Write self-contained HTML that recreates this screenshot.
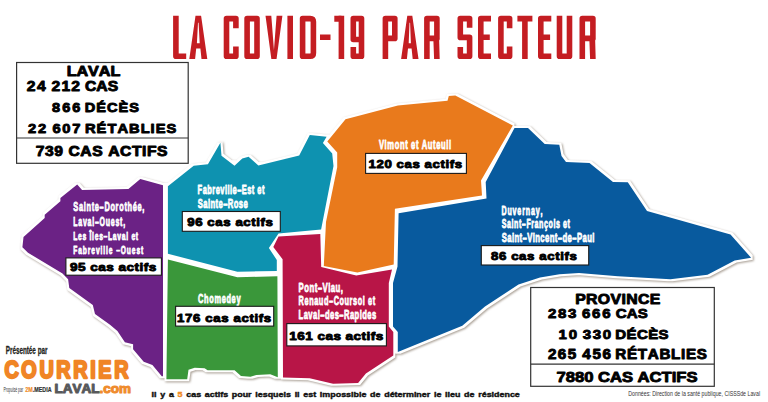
<!DOCTYPE html>
<html><head><meta charset="utf-8"><style>
html,body{margin:0;padding:0;background:#fff;overflow:hidden}
svg{display:block;font-family:"Liberation Sans",sans-serif;font-kerning:none}
</style></head><body>
<svg width="768" height="402" viewBox="0 0 768 402">
<defs><filter id="sh" x="-5%" y="-5%" width="110%" height="110%" color-interpolation-filters="sRGB"><feMorphology in="SourceAlpha" operator="dilate" radius="3.5" result="d"/><feMorphology in="d" operator="erode" radius="2" result="e"/><feGaussianBlur in="e" stdDeviation="1.2" result="b"/><feOffset in="b" dx="1.3" dy="1.3" result="o"/><feFlood flood-color="#6a5a48" flood-opacity="0.6"/><feComposite in2="o" operator="in" result="s"/><feFlood flood-color="#fff"/><feComposite in2="e" operator="in" result="w"/><feMerge><feMergeNode in="s"/><feMergeNode in="w"/><feMergeNode in="SourceGraphic"/></feMerge></filter></defs>
<rect width="768" height="402" fill="#fff"/>
<path d="M175.9 15.8V56.2H186.2M235.9 28.3V18.6H226.5V56.2H235.9V46.5M247.1 18.6H257V56.2H247.1ZM290.2 15.8V59M302.6 18.6H310.2Q313.4 18.6 313.4 21.8V53Q313.4 56.2 310.2 56.2H302.6ZM341.4 15.8V59M361.5 39.5H353.3V18.6H361.5V56.2H353.3V47M385.4 59V18.6H394.8V38.4H385.4M426.9 59V18.6H436.9V38.4H426.9M469.6 27.8V18.6H460.3V37.4H469.6V56.2H460.3V47M491 18.6H480.8V56.2H491M480.8 37.2H489.8M509.6 28.3V18.6H500.9V56.2H509.6V46.5M517.4 18.6H532.4M524.9 18.6V59M551.3 18.6H540.8V56.2H551.3M540.8 37.2H550.1M559.5 15.8V56.2H569.5V15.8M582.3 59V18.6H592.9V38.4H582.3" fill="none" stroke="#c41d22" stroke-width="5.6" stroke-linejoin="round"/><path d="M189.3 59L195.5 15.8H201.1L207.3 59H201.5L200.4 48.6H196.2L195.1 59ZM196.9 43.2L198 22.8H198.6L199.7 43.2ZM265.5 15.8H271.3L273.95 50L276.6 15.8H282.4L276.55 59H271.35ZM320 34.6H330.5V40H320ZM334.3 15.8H341.4V21.8H334.3ZM401.1 59L407.3 15.8H412.3L418.5 59H412.7L411.6 48.6H408L406.9 59ZM408.7 43.2L409.5 22.8H410.1L410.9 43.2ZM433.3 38H439.1L439.7 59H434.1ZM589.3 38H595.1L595.7 59H590.1Z" fill="#c41d22" fill-rule="evenodd"/>
<g filter="url(#sh)">
<polygon points="77.2,184.5 82.1,189.9 128.4,188.9 140.3,178.9 163.0,185.2 163.0,376.0 162.0,376.5 152.4,364.9 143.7,361.7 133.1,349.3 133.1,344.3 124.9,342.2 117.4,331.0 110.0,324.8 95.0,313.9 92.8,304.9 69.3,288.1 68.1,279.2 62.5,273.6 28.0,252.8 22.4,247.2 23.5,237.1 44.7,218.1 44.7,214.7 60.4,201.3 60.4,198.0" fill="#6b2285"/>
<polygon points="167.9,186.3 193.7,165.8 207.9,164.2 220.4,142.8 221.5,155.8 234.5,165.7 242.3,158.4 248.6,156.7 258.4,165.4 299.2,155.5 309.8,134.9 326.6,136.8 322.9,143.0 332.2,153.6 333.5,166.1 321.1,229.4 278.5,233.6 268.9,247.9 276.8,260.0 276.8,271.0 237.4,271.7 167.9,253.8" fill="#0e92b0"/>
<polygon points="167.9,259.4 237.4,277.3 277.4,276.2 277.8,377.3 270.3,374.3 256.3,374.9 250.4,376.7 241.0,376.1 234.6,370.2 207.6,370.2 204.6,368.2 194.7,367.8 188.5,369.8 187.2,379.2 166.4,379.2" fill="#3a973a"/>
<polygon points="345.5,119.3 397.9,105.4 447.5,100.7 448.8,96.0 455.3,95.4 512.8,125.5 481.0,180.5 482.0,195.6 394.9,208.7 393.7,264.6 357.4,272.5 323.8,266.1 326.0,222.0 337.2,167.3 337.2,152.4 327.3,141.5" fill="#e97a1c"/>
<polygon points="278.5,236.6 320.3,233.9 321.2,267.0 356.2,275.5 392.0,269.4 388.8,283.0 388.8,326.5 393.3,332.0 393.3,355.6 365.9,373.6 358.1,383.0 333.1,383.7 309.7,378.3 283.0,377.5 282.6,259.2 273.3,247.0" fill="#b81547"/>
<polygon points="514.5,127.9 528.0,127.9 544.7,144.0 559.3,144.7 561.5,155.9 566.0,161.9 589.5,163.0 613.0,182.0 627.8,182.3 647.0,211.1 730.5,234.4 751.1,257.7 734.7,260.4 707.5,274.7 670.4,279.3 618.0,276.2 579.0,273.0 559.5,274.3 540.0,277.6 518.5,284.4 485.0,306.6 462.3,325.7 397.8,352.0 397.8,332.0 393.0,326.5 393.0,283.0 397.5,266.5 398.6,213.3 486.5,198.5 485.7,182.0" fill="#085a9e"/>
</g>
<text transform="scale(0.58,1)" x="126.36 136.05 144.32 149.04 158.01 163.43 171.70 179.98 190.38 199.35 205.49 214.46 219.88 228.86 237.13 245.41" y="211.50" font-size="12.79" font-weight="bold" fill="#fff" stroke="#fff" stroke-width="0.8" stroke-linejoin="round">Sainte–Dorothée,</text>
<text transform="scale(0.58,1)" x="126.26 134.94 142.97 150.99 159.01 163.68 171.70 182.40 191.08 199.10 207.12 212.46" y="225.90" font-size="12.06" font-weight="bold" fill="#fff" stroke="#fff" stroke-width="0.8" stroke-linejoin="round">Laval–Ouest,</text>
<text transform="scale(0.58,1)" x="126.29 134.60 142.28 149.96 154.40 158.84 163.28 170.95 178.63 186.30 194.62 202.29 209.97 217.64 222.08 226.52 234.20" y="240.20" font-size="11.63" font-weight="bold" fill="#fff" stroke="#fff" stroke-width="0.8" stroke-linejoin="round">Les Îles–Laval et</text>
<text transform="scale(0.58,1)" x="126.30 134.88 142.83 151.40 157.44 165.38 173.33 178.09 182.84 187.59 195.54 200.29 208.24 218.74 227.31 235.26 243.21" y="253.70" font-size="11.48" font-weight="bold" fill="#fff" stroke="#fff" stroke-width="0.8" stroke-linejoin="round">Fabreville –Ouest</text>
<rect x="65.9" y="257.9" width="95.5" height="17.3" fill="#fff" stroke="#1a1a1a" stroke-width="1.1"/>
<text transform="scale(1.18,1)" x="59.39 66.17 72.96 76.54 83.33 90.11 96.89 100.48 107.26 114.05 118.27 121.86 126.08" y="270.75" font-size="11.48" font-weight="bold" fill="#000" stroke="#000" stroke-width="0.9" stroke-linejoin="round">95 cas actifs</text>
<text transform="scale(0.58,1)" x="340.69 349.37 357.35 366.03 371.85 379.82 387.80 392.18 396.55 400.93 408.91 416.88 426.29 434.27 439.36 443.74 451.71" y="194.30" font-size="12.94" font-weight="bold" fill="#fff" stroke="#fff" stroke-width="0.8" stroke-linejoin="round">Fabreville–Est et</text>
<text transform="scale(0.58,1)" x="341.17 350.64 358.64 362.96 371.68 376.73 384.73 392.73 402.92 411.65 419.65" y="208.30" font-size="13.23" font-weight="bold" fill="#fff" stroke="#fff" stroke-width="0.8" stroke-linejoin="round">Sainte–Rose</text>
<rect x="182.3" y="211.5" width="98.0" height="19.8" fill="#fff" stroke="#1a1a1a" stroke-width="1.1"/>
<text transform="scale(1.18,1)" x="158.64 165.37 172.09 175.71 182.44 189.16 195.89 199.51 206.24 212.96 217.20 220.81 225.04" y="225.55" font-size="11.19" font-weight="bold" fill="#000" stroke="#000" stroke-width="0.9" stroke-linejoin="round">96 cas actifs</text>
<text transform="scale(0.58,1)" x="653.36 663.14 667.83 680.52 689.57 698.61 704.03 708.72 717.05 722.46 727.15 737.66 746.71 752.12 760.45 769.50 774.19" y="148.90" font-size="13.08" font-weight="bold" fill="#fff" stroke="#fff" stroke-width="0.8" stroke-linejoin="round">Vimont et Auteuil</text>
<rect x="365.6" y="153.4" width="100.8" height="20.0" fill="#fff" stroke="#1a1a1a" stroke-width="1.1"/>
<text transform="scale(1.18,1)" x="312.39 319.10 325.81 332.52 336.12 342.83 349.54 356.25 359.85 366.56 373.27 377.48 381.08 385.29" y="168.05" font-size="11.19" font-weight="bold" fill="#000" stroke="#000" stroke-width="0.9" stroke-linejoin="round">120 cas actifs</text>
<text transform="scale(0.58,1)" x="341.37 351.75 360.70 369.65 382.16 390.41 399.36 407.61" y="303.10" font-size="12.79" font-weight="bold" fill="#fff" stroke="#fff" stroke-width="0.8" stroke-linejoin="round">Chomedey</text>
<rect x="175.6" y="306.3" width="98.1" height="19.8" fill="#fff" stroke="#1a1a1a" stroke-width="1.1"/>
<text transform="scale(1.18,1)" x="150.10 156.85 163.60 170.35 173.99 180.74 187.49 194.24 197.87 204.62 211.37 215.63 219.26 223.51" y="321.95" font-size="11.19" font-weight="bold" fill="#000" stroke="#000" stroke-width="0.9" stroke-linejoin="round">176 cas actifs</text>
<text transform="scale(0.58,1)" x="514.80 524.53 533.51 542.50 547.77 556.02 565.76 570.29 578.54 587.52" y="291.60" font-size="13.37" font-weight="bold" fill="#fff" stroke="#fff" stroke-width="0.8" stroke-linejoin="round">Pont–Viau,</text>
<text transform="scale(0.58,1)" x="514.84 524.97 533.00 541.72 549.75 558.47 567.19 575.22 585.34 594.06 602.78 608.70 616.73 625.45 629.96 634.47 642.50" y="305.40" font-size="12.65" font-weight="bold" fill="#fff" stroke="#fff" stroke-width="0.8" stroke-linejoin="round">Renaud–Coursol et</text>
<text transform="scale(0.58,1)" x="514.81 523.58 531.63 539.68 547.73 552.14 560.19 568.95 577.00 585.05 593.10 603.33 611.38 620.14 624.55 633.31 641.36" y="319.20" font-size="13.08" font-weight="bold" fill="#fff" stroke="#fff" stroke-width="0.8" stroke-linejoin="round">Laval–des–Rapides</text>
<rect x="286.8" y="323.6" width="99.6" height="22.3" fill="#fff" stroke="#1a1a1a" stroke-width="1.1"/>
<text transform="scale(1.18,1)" x="245.08 251.86 258.63 265.41 268.99 275.76 282.54 289.31 292.89 299.67 306.44 310.66 314.24 318.45" y="339.85" font-size="11.48" font-weight="bold" fill="#000" stroke="#000" stroke-width="0.9" stroke-linejoin="round">161 cas actifs</text>
<text transform="scale(0.58,1)" x="864.53 874.81 883.74 891.99 900.25 906.47 915.39 923.65 931.91" y="214.90" font-size="12.21" font-weight="bold" fill="#fff" stroke="#fff" stroke-width="0.8" stroke-linejoin="round">Duvernay,</text>
<text transform="scale(0.58,1)" x="864.99 874.12 881.90 886.28 894.73 899.78 907.56 916.00 921.74 929.52 937.96 945.74 954.18 958.56 966.34 970.72 978.50" y="228.30" font-size="12.21" font-weight="bold" fill="#fff" stroke="#fff" stroke-width="0.8" stroke-linejoin="round">Saint–François et</text>
<text transform="scale(0.58,1)" x="864.96 874.52 882.60 886.95 895.76 900.85 908.93 918.49 922.85 931.65 939.73 947.81 956.62 961.71 969.79 978.60 986.67 994.75 1004.31 1012.39 1021.20" y="242.20" font-size="13.37" font-weight="bold" fill="#fff" stroke="#fff" stroke-width="0.8" stroke-linejoin="round">Saint–Vincent–de–Paul</text>
<rect x="481.3" y="245.6" width="107.4" height="19.4" fill="#fff" stroke="#1a1a1a" stroke-width="1.1"/>
<text transform="scale(1.18,1)" x="416.13 422.86 429.59 433.21 439.94 446.68 453.41 457.03 463.76 470.49 474.73 478.35 482.58" y="260.05" font-size="11.19" font-weight="bold" fill="#000" stroke="#000" stroke-width="0.9" stroke-linejoin="round">86 cas actifs</text>
<rect x="16.6" y="62.5" width="171.6" height="100.8" fill="#fff" stroke="#333" stroke-width="1.2"/>
<line x1="16.6" y1="138" x2="188.2" y2="138" stroke="#333" stroke-width="1.2"/>
<text transform="scale(1.1,1)" x="60.61 69.52 80.07 89.80 100.35" y="76.45" font-size="14.68" font-weight="bold" fill="#000" stroke="#000" stroke-width="0.9" stroke-linejoin="round">LAVAL</text>
<text transform="scale(1.1,1)" x="24.37 33.56" y="91.35" font-size="14.24" font-weight="bold" fill="#000" stroke="#000" stroke-width="0.9" stroke-linejoin="round">24</text>
<text transform="scale(1.1,1)" x="46.82 55.85 64.88" y="91.35" font-size="14.24" font-weight="bold" fill="#000" stroke="#000" stroke-width="0.9" stroke-linejoin="round">212</text>
<text transform="scale(1.1,1)" x="77.28 87.60 97.92" y="91.35" font-size="14.24" font-weight="bold" fill="#000" stroke="#000" stroke-width="0.9" stroke-linejoin="round">CAS</text>
<text transform="scale(1.1,1)" x="47.26 56.49 65.71" y="111.75" font-size="13.23" font-weight="bold" fill="#000" stroke="#000" stroke-width="0.9" stroke-linejoin="round">866</text>
<text transform="scale(1.1,1)" x="77.07 87.56 97.31 107.80 117.56" y="111.75" font-size="13.23" font-weight="bold" fill="#000" stroke="#000" stroke-width="0.9" stroke-linejoin="round">DÉCÈS</text>
<text transform="scale(1.1,1)" x="25.49 34.51" y="132.75" font-size="13.37" font-weight="bold" fill="#000" stroke="#000" stroke-width="0.9" stroke-linejoin="round">22</text>
<text transform="scale(1.1,1)" x="47.65 56.69 65.74" y="132.75" font-size="13.37" font-weight="bold" fill="#000" stroke="#000" stroke-width="0.9" stroke-linejoin="round">607</text>
<text transform="scale(1.1,1)" x="77.24 87.81 97.64 106.71 117.28 127.85 136.92 141.55 151.38" y="132.75" font-size="13.37" font-weight="bold" fill="#000" stroke="#000" stroke-width="0.9" stroke-linejoin="round">RÉTABLIES</text>
<text transform="scale(1.1,1)" x="32.43 40.87 49.31 57.75 62.22 73.02 83.83 93.84 98.32 109.12 119.92 129.14 133.61 142.83" y="156.45" font-size="14.24" font-weight="bold" fill="#000" stroke="#000" stroke-width="0.9" stroke-linejoin="round">739 CAS ACTIFS</text>
<rect x="530.7" y="287.5" width="183.6" height="98.8" fill="#fff" stroke="#333" stroke-width="1.2"/>
<line x1="530.7" y1="364.1" x2="714.3" y2="364.1" stroke="#333" stroke-width="1.2"/>
<text transform="scale(1.1,1)" x="522.90 532.81 543.51 555.02 564.93 569.24 579.94 590.65" y="303.55" font-size="14.39" font-weight="bold" fill="#000" stroke="#000" stroke-width="0.9" stroke-linejoin="round">PROVINCE</text>
<text transform="scale(1.1,1)" x="498.21 507.26 516.30" y="318.15" font-size="13.66" font-weight="bold" fill="#000" stroke="#000" stroke-width="0.9" stroke-linejoin="round">283</text>
<text transform="scale(1.1,1)" x="529.00 538.29 547.58" y="318.15" font-size="13.66" font-weight="bold" fill="#000" stroke="#000" stroke-width="0.9" stroke-linejoin="round">666</text>
<text transform="scale(1.1,1)" x="559.76 569.75 579.74" y="318.15" font-size="13.66" font-weight="bold" fill="#000" stroke="#000" stroke-width="0.9" stroke-linejoin="round">CAS</text>
<text transform="scale(1.1,1)" x="507.64 517.01" y="339.05" font-size="13.66" font-weight="bold" fill="#000" stroke="#000" stroke-width="0.9" stroke-linejoin="round">10</text>
<text transform="scale(1.1,1)" x="529.82 538.87 547.92" y="339.05" font-size="13.66" font-weight="bold" fill="#000" stroke="#000" stroke-width="0.9" stroke-linejoin="round">330</text>
<text transform="scale(1.1,1)" x="559.40 569.61 579.07 589.28 598.74" y="339.05" font-size="13.66" font-weight="bold" fill="#000" stroke="#000" stroke-width="0.9" stroke-linejoin="round">DÉCÈS</text>
<text transform="scale(1.1,1)" x="498.20 507.16 516.11" y="359.45" font-size="13.81" font-weight="bold" fill="#000" stroke="#000" stroke-width="0.9" stroke-linejoin="round">265</text>
<text transform="scale(1.1,1)" x="529.29 538.53 547.77" y="359.45" font-size="13.81" font-weight="bold" fill="#000" stroke="#000" stroke-width="0.9" stroke-linejoin="round">456</text>
<text transform="scale(1.1,1)" x="559.39 570.00 579.83 588.90 599.50 610.10 619.16 623.63 633.47" y="359.45" font-size="13.81" font-weight="bold" fill="#000" stroke="#000" stroke-width="0.9" stroke-linejoin="round">RÉTABLIES</text>
<text transform="scale(1.1,1)" x="506.03 514.41 522.78 531.15 539.53 543.69 554.58 565.46 575.51 579.67 590.56 601.44 610.64 614.81 624.01" y="382.05" font-size="15.12" font-weight="bold" fill="#000" stroke="#000" stroke-width="0.9" stroke-linejoin="round">7880 CAS ACTIFS</text>
<text x="5.73" y="354.45" font-size="11.05" textLength="41.72" lengthAdjust="spacingAndGlyphs" font-weight="bold" fill="#231f20" stroke="#231f20" stroke-width="0.3" stroke-linejoin="round" >Présentée par</text>
<text transform="scale(0.8,1)" x="5.55 26.71 49.25 70.41 91.58 112.74 122.93 142.72" y="378.15" font-size="24.71" font-weight="bold" fill="#f08526" stroke="#f08526" stroke-width="2.3" stroke-linejoin="round">COURRIER</text>
<text x="3.41" y="392.20" font-size="6.40" textLength="19.74" lengthAdjust="spacingAndGlyphs" font-weight="normal" fill="#333" >Propulsé par</text>
<text x="25.31" y="392.10" font-size="6.54" textLength="26.23" lengthAdjust="spacingAndGlyphs" font-weight="bold" fill="#333" stroke="#333" stroke-width="0.2" stroke-linejoin="round" ><tspan fill="#ef8b2c" stroke="#ef8b2c">2M</tspan>.MEDIA</text>
<text x="54.50" y="392.50" font-size="12.65" textLength="76.54" lengthAdjust="spacingAndGlyphs" font-weight="bold" fill="#58595b" stroke="#58595b" stroke-width="1.0" stroke-linejoin="round" >LAVAL<tspan fill="#ef8b2c" stroke="#ef8b2c">.com</tspan></text>
<text x="151.60" y="397.40" font-size="7.56" textLength="368.20" lengthAdjust="spacingAndGlyphs" font-weight="bold" fill="#111" stroke="#111" stroke-width="0.4" stroke-linejoin="round" >Il  y  a  <tspan fill="#f08a24" stroke="#f08a24">5</tspan>  cas  actifs  pour  lesquels  il  est  impossible  de  déterminer  le  lieu  de  résidence</text>
<text x="628.27" y="395.60" font-size="6.98" textLength="131.78" lengthAdjust="spacingAndGlyphs" font-weight="normal" fill="#333" >Données: Direction de la santé publique, CISSSde Laval</text>
</svg></body></html>
